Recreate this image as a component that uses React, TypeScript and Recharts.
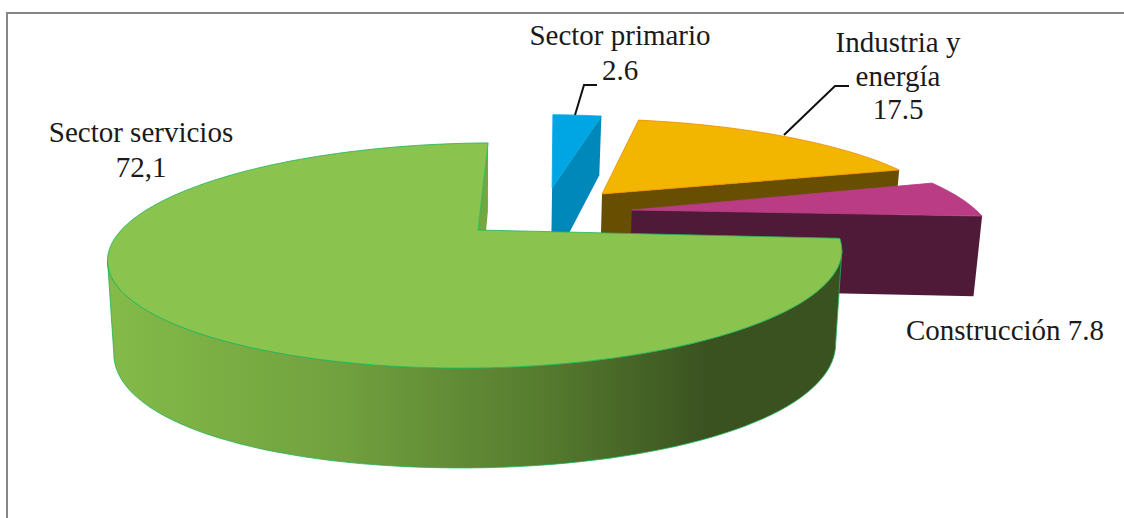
import React from 'react';
import { PieChart, Pie } from 'recharts';

const SECTORS = ['Sector primario', 'Industria y energía', 'Construcción', 'Sector servicios'];
const SHARES = [2.6, 17.5, 7.8, 72.1];
const LABEL_LINES = [['Sector primario', '2.6'], ['Industria y', 'energía', '17.5'], ['Construcción 7.8'], ['Sector servicios', '72,1']];

// Look of each slice: colours, explosion in the pie's own plane, small arc trims (degrees)
const SLICE_STYLE = [
  { top: '#00A6E3', edge: '#00A6E3', side: '#0088BB', ox: 0.2243, oy: -0.4335, sx: 1.014, tilt: 0, depth: 1, trimStart: 0.8, trimEnd: -1.6 },
  { top: '#F2B500', edge: '#F08A00', side: '#674E00', ox: 0.37, oy: -0.3653, sx: 1.014, tilt: 0, depth: 1, trimStart: 0.6, trimEnd: 0.6 },
  { top: '#B93C84', edge: '#B93C84', side: '#4E1A38', ox: 0.447, oy: -0.1957, sx: 1.004, tilt: 0, depth: 0.93, trimStart: -1.4, trimEnd: 8.9 },
  { top: '#8AC44E', edge: '#1EB45A', side: '#73A840', ox: 0, oy: 0, sx: 0.99, tilt: 5, depth: 1, trimStart: -5.4, trimEnd: 0 },
];

const LABEL_STYLE = [
  { x: 620, y: 45, dy: 35, leader: '575,115 584,85 597,85' },
  { x: 898, y: 52, dy: 33.5, leader: '784,135 835,86 849,86' },
  { x: 1005, y: 340, dy: 0, leader: '' },
  { x: 141, y: 142, dy: 35, leader: '' },
];

const WIDTH = 1124;
const HEIGHT = 518;
const PERSPECTIVE = 0.2267;
const FLATTEN = 0.298;

const rad = (deg: number) => (deg * Math.PI) / 180;
const toPath = (pts: { x: number; y: number }[]) =>
  'M' + pts.map((p) => `${p.x.toFixed(1)},${p.y.toFixed(1)}`).join('L') + 'Z';

// Tilted pie: every slice is a flat polygon on a plane seen with perspective
const Slice3D = (props: any) => {
  const { cx, cy, outerRadius, startAngle, endAngle, index } = props;
  const st = SLICE_STYLE[index];
  const ry = outerRadius * FLATTEN;

  const topPoint = (u: number, v: number) => {
    const s = 1 / (1 - PERSPECTIVE * v);
    return {
      x: cx + outerRadius * (u > 0 ? st.sx : 1.008) * u * s,
      y: cy + ry * v * s - st.tilt * u * s,
      s,
    };
  };
  const dropped = (p: { x: number; y: number; s: number }) => ({
    x: cx + (p.x - cx) * 0.983,
    y: p.y + (100 - 160 * (1.264 - p.s) ** 2) * st.depth,
  });
  const rim = (phi: number) => topPoint(st.ox + Math.sin(rad(phi)), st.oy - Math.cos(rad(phi)));
  const arc = (from: number, to: number) => {
    const pts = [];
    const n = Math.max(2, Math.ceil(Math.abs(to - from) / 2));
    for (let i = 0; i <= n; i++) pts.push(rim(from + ((to - from) * i) / n));
    return pts;
  };

  const phi1 = 90 - startAngle + st.trimStart;
  const phi2 = 90 - endAngle - st.trimEnd;
  const apex = topPoint(st.ox, st.oy);
  const end = rim(phi2);
  const isRound = index === SHARES.length - 1;
  // only the part of the rim between the two widest points shows a wall
  const frontArc = isRound ? arc(103, 257) : [];

  return (
    <g>
      {isRound && (
        <defs>
          <linearGradient id="wallShade" gradientUnits="userSpaceOnUse" x1="115" x2="838" y1="0" y2="0">
            <stop offset="0" stopColor="#83BA48" />
            <stop offset="0.3" stopColor="#72A23F" />
            <stop offset="0.6" stopColor="#557A2E" />
            <stop offset="0.82" stopColor="#3A5220" />
            <stop offset="1" stopColor="#3A5220" />
          </linearGradient>
        </defs>
      )}
      <path d={toPath([apex, end, dropped(end), dropped(apex)])} fill={st.side} />
      {isRound && (
        <path
          d={toPath([...frontArc, ...frontArc.map(dropped).reverse()])}
          fill="url(#wallShade)"
          stroke={st.edge}
          strokeWidth={0.8}
        />
      )}
      <path d={toPath([apex, ...arc(phi1, phi2)])} fill={st.top} stroke={st.edge} strokeWidth={0.8} />
    </g>
  );
};

const SliceLabel = (props: any) => {
  const { index } = props;
  const st = LABEL_STYLE[index];
  return (
    <g>
      {st.leader && <polyline points={st.leader} fill="none" stroke="#111" strokeWidth={2} />}
      <text x={st.x} y={st.y} textAnchor="middle" fontFamily="'Liberation Serif', serif" fontSize={29} fill="#1a1a1a">
        {LABEL_LINES[index].map((line, i) => (
          <tspan key={line} x={st.x} y={st.y + i * st.dy}>{line}</tspan>
        ))}
      </text>
    </g>
  );
};

const chartData = SECTORS.map((name, i) => ({ name, value: SHARES[i] }));

export default function App() {
  return (
    <div style={{ position: 'absolute', left: 0, top: 0, width: WIDTH, height: HEIGHT, overflow: 'hidden', background: '#fff' }}>
      <div style={{ position: 'absolute', left: 6, top: 12, right: 0, bottom: 0, borderTop: '2px solid #868686', borderLeft: '2px solid #868686' }} />
      <div style={{ position: 'absolute', left: 0, top: 0 }}>
        <PieChart width={WIDTH} height={HEIGHT} margin={{ top: 0, right: 0, bottom: 0, left: 0 }}>
          <Pie
            data={chartData}
            dataKey="value"
            nameKey="name"
            cx={478}
            cy={230}
            innerRadius={0}
            outerRadius={358}
            startAngle={88}
            endAngle={-272}
            stroke="none"
            shape={Slice3D}
            label={SliceLabel}
            labelLine={false}
            isAnimationActive={false}
          />
        </PieChart>
      </div>
    </div>
  );
}
